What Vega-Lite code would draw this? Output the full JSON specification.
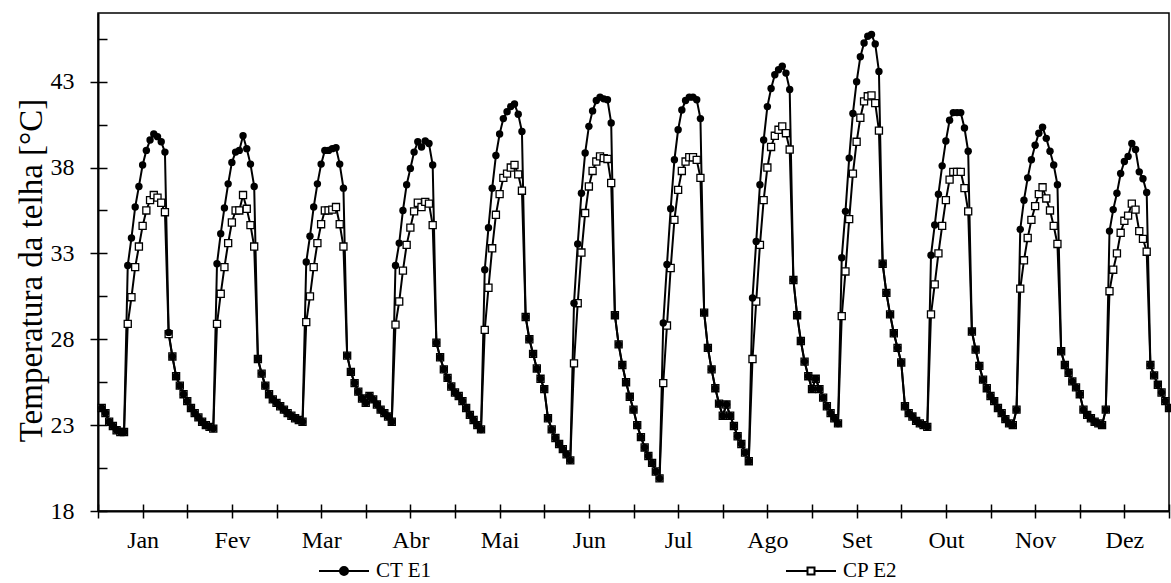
{
"$schema":"https://vega.github.io/schema/vega-lite/v6.json",
"width":1071,"height":498,
"autosize":"none",
"padding":{"left":98,"top":13,"right":2,"bottom":72},
"background":"white",
"config":{"view":{"stroke":"black","strokeWidth":1.5},"font":"Liberation Serif"},
"data":{"values":[
{"h":1,"CT E1":24.0,"CP E2":24.0},{"h":2,"CT E1":23.7,"CP E2":23.7},{"h":3,"CT E1":23.2,"CP E2":23.2},{"h":4,"CT E1":22.95,"CP E2":22.95},{"h":5,"CT E1":22.7,"CP E2":22.7},{"h":6,"CT E1":22.6,"CP E2":22.6},{"h":7,"CT E1":22.6,"CP E2":22.6},{"h":8,"CT E1":32.3,"CP E2":28.9},{"h":9,"CT E1":33.9,"CP E2":30.45},{"h":10,"CT E1":35.7,"CP E2":32.2},{"h":11,"CT E1":36.9,"CP E2":33.4},{"h":12,"CT E1":38.15,"CP E2":34.6},{"h":13,"CT E1":39.0,"CP E2":35.5},{"h":14,"CT E1":39.6,"CP E2":36.1},{"h":15,"CT E1":39.95,"CP E2":36.4},{"h":16,"CT E1":39.8,"CP E2":36.25},{"h":17,"CT E1":39.5,"CP E2":35.95},{"h":18,"CT E1":38.9,"CP E2":35.4},{"h":19,"CT E1":28.4,"CP E2":28.3},{"h":20,"CT E1":27.0,"CP E2":27.0},{"h":21,"CT E1":25.85,"CP E2":25.85},{"h":22,"CT E1":25.3,"CP E2":25.3},{"h":23,"CT E1":24.8,"CP E2":24.8},{"h":24,"CT E1":24.4,"CP E2":24.4},
{"h":25,"CT E1":24.0,"CP E2":24.0},{"h":26,"CT E1":23.7,"CP E2":23.7},{"h":27,"CT E1":23.45,"CP E2":23.45},{"h":28,"CT E1":23.2,"CP E2":23.2},{"h":29,"CT E1":23.0,"CP E2":23.0},{"h":30,"CT E1":22.9,"CP E2":22.9},{"h":31,"CT E1":22.8,"CP E2":22.8},{"h":32,"CT E1":32.4,"CP E2":28.9},{"h":33,"CT E1":34.15,"CP E2":30.65},{"h":34,"CT E1":35.65,"CP E2":32.2},{"h":35,"CT E1":37.05,"CP E2":33.6},{"h":36,"CT E1":38.3,"CP E2":34.8},{"h":37,"CT E1":38.9,"CP E2":35.5},{"h":38,"CT E1":39.0,"CP E2":35.5},{"h":39,"CT E1":39.85,"CP E2":36.4},{"h":40,"CT E1":39.1,"CP E2":35.6},{"h":41,"CT E1":38.2,"CP E2":34.65},{"h":42,"CT E1":36.9,"CP E2":33.4},{"h":43,"CT E1":26.85,"CP E2":26.85},{"h":44,"CT E1":26.0,"CP E2":26.0},{"h":45,"CT E1":25.3,"CP E2":25.3},{"h":46,"CT E1":24.8,"CP E2":24.8},{"h":47,"CT E1":24.5,"CP E2":24.5},{"h":48,"CT E1":24.3,"CP E2":24.3},
{"h":49,"CT E1":24.1,"CP E2":24.1},{"h":50,"CT E1":23.9,"CP E2":23.9},{"h":51,"CT E1":23.7,"CP E2":23.7},{"h":52,"CT E1":23.55,"CP E2":23.55},{"h":53,"CT E1":23.4,"CP E2":23.4},{"h":54,"CT E1":23.3,"CP E2":23.3},{"h":55,"CT E1":23.2,"CP E2":23.2},{"h":56,"CT E1":32.5,"CP E2":29.0},{"h":57,"CT E1":34.0,"CP E2":30.5},{"h":58,"CT E1":35.7,"CP E2":32.2},{"h":59,"CT E1":37.05,"CP E2":33.6},{"h":60,"CT E1":38.2,"CP E2":34.7},{"h":61,"CT E1":39.0,"CP E2":35.5},{"h":62,"CT E1":39.0,"CP E2":35.5},{"h":63,"CT E1":39.1,"CP E2":35.55},{"h":64,"CT E1":39.15,"CP E2":35.7},{"h":65,"CT E1":38.2,"CP E2":34.7},{"h":66,"CT E1":36.8,"CP E2":33.4},{"h":67,"CT E1":27.05,"CP E2":27.05},{"h":68,"CT E1":26.1,"CP E2":26.1},{"h":69,"CT E1":25.45,"CP E2":25.45},{"h":70,"CT E1":24.95,"CP E2":24.95},{"h":71,"CT E1":24.55,"CP E2":24.55},{"h":72,"CT E1":24.3,"CP E2":24.3},
{"h":73,"CT E1":24.7,"CP E2":24.7},{"h":74,"CT E1":24.5,"CP E2":24.5},{"h":75,"CT E1":24.2,"CP E2":24.2},{"h":76,"CT E1":23.9,"CP E2":23.9},{"h":77,"CT E1":23.7,"CP E2":23.7},{"h":78,"CT E1":23.5,"CP E2":23.5},{"h":79,"CT E1":23.2,"CP E2":23.2},{"h":80,"CT E1":32.3,"CP E2":28.85},{"h":81,"CT E1":33.6,"CP E2":30.2},{"h":82,"CT E1":35.5,"CP E2":32.0},{"h":83,"CT E1":37.0,"CP E2":33.5},{"h":84,"CT E1":37.95,"CP E2":34.5},{"h":85,"CT E1":38.9,"CP E2":35.45},{"h":86,"CT E1":39.5,"CP E2":35.95},{"h":87,"CT E1":39.2,"CP E2":35.7},{"h":88,"CT E1":39.55,"CP E2":36.0},{"h":89,"CT E1":39.4,"CP E2":35.9},{"h":90,"CT E1":38.15,"CP E2":34.65},{"h":91,"CT E1":27.8,"CP E2":27.8},{"h":92,"CT E1":26.95,"CP E2":26.95},{"h":93,"CT E1":26.25,"CP E2":26.25},{"h":94,"CT E1":25.75,"CP E2":25.75},{"h":95,"CT E1":25.25,"CP E2":25.25},{"h":96,"CT E1":24.9,"CP E2":24.9},
{"h":97,"CT E1":24.7,"CP E2":24.7},{"h":98,"CT E1":24.4,"CP E2":24.4},{"h":99,"CT E1":24.0,"CP E2":24.0},{"h":100,"CT E1":23.6,"CP E2":23.6},{"h":101,"CT E1":23.3,"CP E2":23.3},{"h":102,"CT E1":23.0,"CP E2":23.0},{"h":103,"CT E1":22.75,"CP E2":22.75},{"h":104,"CT E1":32.05,"CP E2":28.55},{"h":105,"CT E1":34.5,"CP E2":31.0},{"h":106,"CT E1":36.8,"CP E2":33.3},{"h":107,"CT E1":38.7,"CP E2":35.25},{"h":108,"CT E1":39.95,"CP E2":36.45},{"h":109,"CT E1":40.85,"CP E2":37.4},{"h":110,"CT E1":41.25,"CP E2":37.65},{"h":111,"CT E1":41.55,"CP E2":38.0},{"h":112,"CT E1":41.7,"CP E2":38.15},{"h":113,"CT E1":41.1,"CP E2":37.6},{"h":114,"CT E1":40.1,"CP E2":36.65},{"h":115,"CT E1":29.3,"CP E2":29.3},{"h":116,"CT E1":28.0,"CP E2":28.0},{"h":117,"CT E1":27.15,"CP E2":27.15},{"h":118,"CT E1":26.3,"CP E2":26.3},{"h":119,"CT E1":25.7,"CP E2":25.7},{"h":120,"CT E1":25.1,"CP E2":25.1},
{"h":121,"CT E1":23.4,"CP E2":23.4},{"h":122,"CT E1":22.75,"CP E2":22.75},{"h":123,"CT E1":22.25,"CP E2":22.25},{"h":124,"CT E1":21.9,"CP E2":21.9},{"h":125,"CT E1":21.6,"CP E2":21.6},{"h":126,"CT E1":21.3,"CP E2":21.3},{"h":127,"CT E1":20.95,"CP E2":20.95},{"h":128,"CT E1":30.1,"CP E2":26.6},{"h":129,"CT E1":33.55,"CP E2":30.1},{"h":130,"CT E1":36.5,"CP E2":33.05},{"h":131,"CT E1":38.85,"CP E2":35.35},{"h":132,"CT E1":40.4,"CP E2":36.9},{"h":133,"CT E1":41.3,"CP E2":37.8},{"h":134,"CT E1":41.9,"CP E2":38.35},{"h":135,"CT E1":42.1,"CP E2":38.65},{"h":136,"CT E1":42.0,"CP E2":38.55},{"h":137,"CT E1":41.95,"CP E2":38.5},{"h":138,"CT E1":40.6,"CP E2":37.1},{"h":139,"CT E1":29.4,"CP E2":29.4},{"h":140,"CT E1":27.7,"CP E2":27.7},{"h":141,"CT E1":26.5,"CP E2":26.5},{"h":142,"CT E1":25.5,"CP E2":25.5},{"h":143,"CT E1":24.65,"CP E2":24.65},{"h":144,"CT E1":23.9,"CP E2":23.9},
{"h":145,"CT E1":23.0,"CP E2":23.0},{"h":146,"CT E1":22.3,"CP E2":22.3},{"h":147,"CT E1":21.7,"CP E2":21.7},{"h":148,"CT E1":21.2,"CP E2":21.2},{"h":149,"CT E1":20.8,"CP E2":20.8},{"h":150,"CT E1":20.3,"CP E2":20.3},{"h":151,"CT E1":19.9,"CP E2":19.9},{"h":152,"CT E1":28.95,"CP E2":25.45},{"h":153,"CT E1":32.35,"CP E2":28.8},{"h":154,"CT E1":35.6,"CP E2":32.15},{"h":155,"CT E1":38.45,"CP E2":34.95},{"h":156,"CT E1":40.2,"CP E2":36.7},{"h":157,"CT E1":41.35,"CP E2":37.8},{"h":158,"CT E1":41.9,"CP E2":38.35},{"h":159,"CT E1":42.1,"CP E2":38.6},{"h":160,"CT E1":42.1,"CP E2":38.6},{"h":161,"CT E1":41.95,"CP E2":38.45},{"h":162,"CT E1":40.85,"CP E2":37.4},{"h":163,"CT E1":29.55,"CP E2":29.55},{"h":164,"CT E1":27.5,"CP E2":27.5},{"h":165,"CT E1":26.25,"CP E2":26.25},{"h":166,"CT E1":25.15,"CP E2":25.15},{"h":167,"CT E1":24.25,"CP E2":24.25},{"h":168,"CT E1":23.55,"CP E2":23.55},
{"h":169,"CT E1":24.2,"CP E2":24.2},{"h":170,"CT E1":23.55,"CP E2":23.55},{"h":171,"CT E1":22.95,"CP E2":22.95},{"h":172,"CT E1":22.35,"CP E2":22.35},{"h":173,"CT E1":21.9,"CP E2":21.9},{"h":174,"CT E1":21.4,"CP E2":21.4},{"h":175,"CT E1":20.9,"CP E2":20.9},{"h":176,"CT E1":30.4,"CP E2":26.85},{"h":177,"CT E1":33.7,"CP E2":30.2},{"h":178,"CT E1":37.0,"CP E2":33.5},{"h":179,"CT E1":39.6,"CP E2":36.1},{"h":180,"CT E1":41.55,"CP E2":38.0},{"h":181,"CT E1":42.6,"CP E2":39.2},{"h":182,"CT E1":43.4,"CP E2":39.85},{"h":183,"CT E1":43.7,"CP E2":40.2},{"h":184,"CT E1":43.9,"CP E2":40.4},{"h":185,"CT E1":43.5,"CP E2":40.0},{"h":186,"CT E1":42.55,"CP E2":39.05},{"h":187,"CT E1":31.45,"CP E2":31.45},{"h":188,"CT E1":29.4,"CP E2":29.4},{"h":189,"CT E1":27.9,"CP E2":27.9},{"h":190,"CT E1":26.7,"CP E2":26.7},{"h":191,"CT E1":25.85,"CP E2":25.85},{"h":192,"CT E1":25.1,"CP E2":25.1},
{"h":193,"CT E1":25.7,"CP E2":25.7},{"h":194,"CT E1":25.1,"CP E2":25.1},{"h":195,"CT E1":24.6,"CP E2":24.6},{"h":196,"CT E1":24.1,"CP E2":24.1},{"h":197,"CT E1":23.7,"CP E2":23.7},{"h":198,"CT E1":23.4,"CP E2":23.4},{"h":199,"CT E1":23.1,"CP E2":23.1},{"h":200,"CT E1":32.75,"CP E2":29.35},{"h":201,"CT E1":35.45,"CP E2":31.95},{"h":202,"CT E1":38.55,"CP E2":35.0},{"h":203,"CT E1":41.15,"CP E2":37.65},{"h":204,"CT E1":43.0,"CP E2":39.5},{"h":205,"CT E1":44.45,"CP E2":40.9},{"h":206,"CT E1":45.25,"CP E2":41.85},{"h":207,"CT E1":45.65,"CP E2":42.15},{"h":208,"CT E1":45.75,"CP E2":42.2},{"h":209,"CT E1":45.2,"CP E2":41.75},{"h":210,"CT E1":43.6,"CP E2":40.15},{"h":211,"CT E1":32.4,"CP E2":32.4},{"h":212,"CT E1":30.7,"CP E2":30.7},{"h":213,"CT E1":29.45,"CP E2":29.45},{"h":214,"CT E1":28.35,"CP E2":28.35},{"h":215,"CT E1":27.5,"CP E2":27.5},{"h":216,"CT E1":26.65,"CP E2":26.65},
{"h":217,"CT E1":24.1,"CP E2":24.1},{"h":218,"CT E1":23.7,"CP E2":23.7},{"h":219,"CT E1":23.5,"CP E2":23.5},{"h":220,"CT E1":23.25,"CP E2":23.25},{"h":221,"CT E1":23.1,"CP E2":23.1},{"h":222,"CT E1":23.0,"CP E2":23.0},{"h":223,"CT E1":22.9,"CP E2":22.9},{"h":224,"CT E1":32.9,"CP E2":29.45},{"h":225,"CT E1":34.65,"CP E2":31.2},{"h":226,"CT E1":36.45,"CP E2":33.0},{"h":227,"CT E1":38.1,"CP E2":34.6},{"h":228,"CT E1":39.55,"CP E2":36.1},{"h":229,"CT E1":40.75,"CP E2":37.3},{"h":230,"CT E1":41.2,"CP E2":37.75},{"h":231,"CT E1":41.2,"CP E2":37.75},{"h":232,"CT E1":41.2,"CP E2":37.75},{"h":233,"CT E1":40.3,"CP E2":36.8},{"h":234,"CT E1":38.95,"CP E2":35.45},{"h":235,"CT E1":28.45,"CP E2":28.45},{"h":236,"CT E1":27.4,"CP E2":27.4},{"h":237,"CT E1":26.45,"CP E2":26.45},{"h":238,"CT E1":25.65,"CP E2":25.65},{"h":239,"CT E1":25.15,"CP E2":25.15},{"h":240,"CT E1":24.7,"CP E2":24.7},
{"h":241,"CT E1":24.4,"CP E2":24.4},{"h":242,"CT E1":24.0,"CP E2":24.0},{"h":243,"CT E1":23.7,"CP E2":23.7},{"h":244,"CT E1":23.35,"CP E2":23.35},{"h":245,"CT E1":23.1,"CP E2":23.1},{"h":246,"CT E1":23.0,"CP E2":23.0},{"h":247,"CT E1":23.9,"CP E2":23.9},{"h":248,"CT E1":34.4,"CP E2":30.95},{"h":249,"CT E1":36.1,"CP E2":32.6},{"h":250,"CT E1":37.4,"CP E2":33.9},{"h":251,"CT E1":38.45,"CP E2":34.95},{"h":252,"CT E1":39.3,"CP E2":35.75},{"h":253,"CT E1":40.0,"CP E2":36.45},{"h":254,"CT E1":40.35,"CP E2":36.85},{"h":255,"CT E1":39.7,"CP E2":36.2},{"h":256,"CT E1":38.95,"CP E2":35.5},{"h":257,"CT E1":38.15,"CP E2":34.6},{"h":258,"CT E1":37.0,"CP E2":33.55},{"h":259,"CT E1":27.3,"CP E2":27.3},{"h":260,"CT E1":26.5,"CP E2":26.5},{"h":261,"CT E1":26.05,"CP E2":26.05},{"h":262,"CT E1":25.55,"CP E2":25.55},{"h":263,"CT E1":25.2,"CP E2":25.2},{"h":264,"CT E1":24.8,"CP E2":24.8},
{"h":265,"CT E1":23.9,"CP E2":23.9},{"h":266,"CT E1":23.6,"CP E2":23.6},{"h":267,"CT E1":23.4,"CP E2":23.4},{"h":268,"CT E1":23.2,"CP E2":23.2},{"h":269,"CT E1":23.1,"CP E2":23.1},{"h":270,"CT E1":23.0,"CP E2":23.0},{"h":271,"CT E1":23.9,"CP E2":23.9},{"h":272,"CT E1":34.3,"CP E2":30.8},{"h":273,"CT E1":35.55,"CP E2":32.05},{"h":274,"CT E1":36.5,"CP E2":33.0},{"h":275,"CT E1":37.65,"CP E2":34.2},{"h":276,"CT E1":38.35,"CP E2":34.9},{"h":277,"CT E1":38.65,"CP E2":35.2},{"h":278,"CT E1":39.4,"CP E2":35.9},{"h":279,"CT E1":39.05,"CP E2":35.55},{"h":280,"CT E1":37.75,"CP E2":34.3},{"h":281,"CT E1":37.35,"CP E2":33.85},{"h":282,"CT E1":36.55,"CP E2":33.1},{"h":283,"CT E1":26.5,"CP E2":26.5},{"h":284,"CT E1":25.9,"CP E2":25.9},{"h":285,"CT E1":25.35,"CP E2":25.35},{"h":286,"CT E1":24.9,"CP E2":24.9},{"h":287,"CT E1":24.4,"CP E2":24.4},{"h":288,"CT E1":24.0,"CP E2":24.0}
]},
"transform":[{"fold":["CT E1","CP E2"],"as":["serie","temp"]}],
"layer":[
{"mark":{"type":"line","strokeWidth":2},
 "encoding":{
  "x":{"field":"h","type":"quantitative","scale":{"domain":[0,288],"nice":false,"zero":false},
   "axis":{"values":[0,12,24,36,48,60,72,84,96,108,120,132,144,156,168,180,192,204,216,228,240,252,264,276,288],
    "labelExpr":"datum.value % 24 == 12 ? ['Jan','Fev','Mar','Abr','Mai','Jun','Jul','Ago','Set','Out','Nov','Dez'][floor(datum.value/24)] : ''",
    "tickSize":7,"tickWidth":1.5,"tickColor":"black","domainWidth":2,"domainColor":"black","grid":false,"title":null,
    "labelFont":"Liberation Serif","labelFontSize":24,"labelFontWeight":"normal","labelColor":"black","labelPadding":10,"labelOverlap":false,"labelFlush":false,"labelBound":false}},
  "y":{"field":"temp","type":"quantitative","scale":{"domain":[18,47],"nice":false,"zero":false},
   "axis":{"values":[18,23,28,33,38,43],"format":"d","tickSize":8,"tickWidth":1.5,"tickColor":"black","domainWidth":2,"domainColor":"black","grid":false,
    "labelFont":"Liberation Serif","labelFontSize":24,"labelFontWeight":"normal","labelColor":"black","labelPadding":16,
    "title":"Temperatura da telha [°C]","titleFont":"Liberation Serif","titleFontSize":33,"titleFontWeight":"normal","titleColor":"black","titlePadding":2,"titleY":257}},
  "color":{"field":"serie","type":"nominal","scale":{"domain":["CT E1","CP E2"],"range":["black","black"]},
   "legend":{"orient":"none","legendX":220,"legendY":532,"direction":"horizontal","columns":2,"columnPadding":350,"title":null,
    "labelFont":"Liberation Serif","labelFontSize":21,"labelFontWeight":"normal","labelColor":"black","labelOffset":6,"symbolSize":2500,"symbolStrokeWidth":2,
    "encode":{"symbols":{"update":{
      "shape":{"signal":"datum.value === 'CT E1' ? 'M-1,0H-0.16M0.16,0H1M0.16,0A0.16,0.16,0,1,1,-0.16,0A0.16,0.16,0,1,1,0.16,0Z' : 'M-1,0H-0.14M0.14,0H1M-0.14,-0.14H0.14V0.14H-0.14Z'"},
      "fill":{"signal":"datum.value === 'CT E1' ? 'black' : 'white'"},
      "stroke":{"value":"black"},"strokeWidth":{"value":2},"opacity":{"value":1}}}}}}
 }},
{"transform":[{"filter":"datum.serie === 'CP E2'"}],
 "mark":{"type":"point","shape":"square","filled":true,"fill":"white","stroke":"black","strokeWidth":1.3,"size":50,"opacity":1},
 "encoding":{
  "x":{"field":"h","type":"quantitative","axis":{"values":[0,12,24,36,48,60,72,84,96,108,120,132,144,156,168,180,192,204,216,228,240,252,264,276,288],"orient":"bottom","tickSize":-7,"tickWidth":1.5,"tickColor":"black","labels":false,"domain":false,"grid":false,"title":null}},
  "y":{"field":"temp","type":"quantitative","axis":{"values":[18,20.5,23,25.5,28,30.5,33,35.5,38,40.5,43,45.5],"orient":"left","tickSize":-9,"tickWidth":1.5,"tickColor":"black","labels":false,"domain":false,"grid":false,"title":null}}
 }},
{"transform":[{"filter":"datum.serie === 'CT E1'"}],
 "mark":{"type":"point","shape":"circle","filled":true,"color":"black","size":55,"opacity":1},
 "encoding":{
  "x":{"field":"h","type":"quantitative","axis":null},
  "y":{"field":"temp","type":"quantitative","axis":null}
 }}
],
"resolve":{"axis":{"x":"independent","y":"independent"}}
}
